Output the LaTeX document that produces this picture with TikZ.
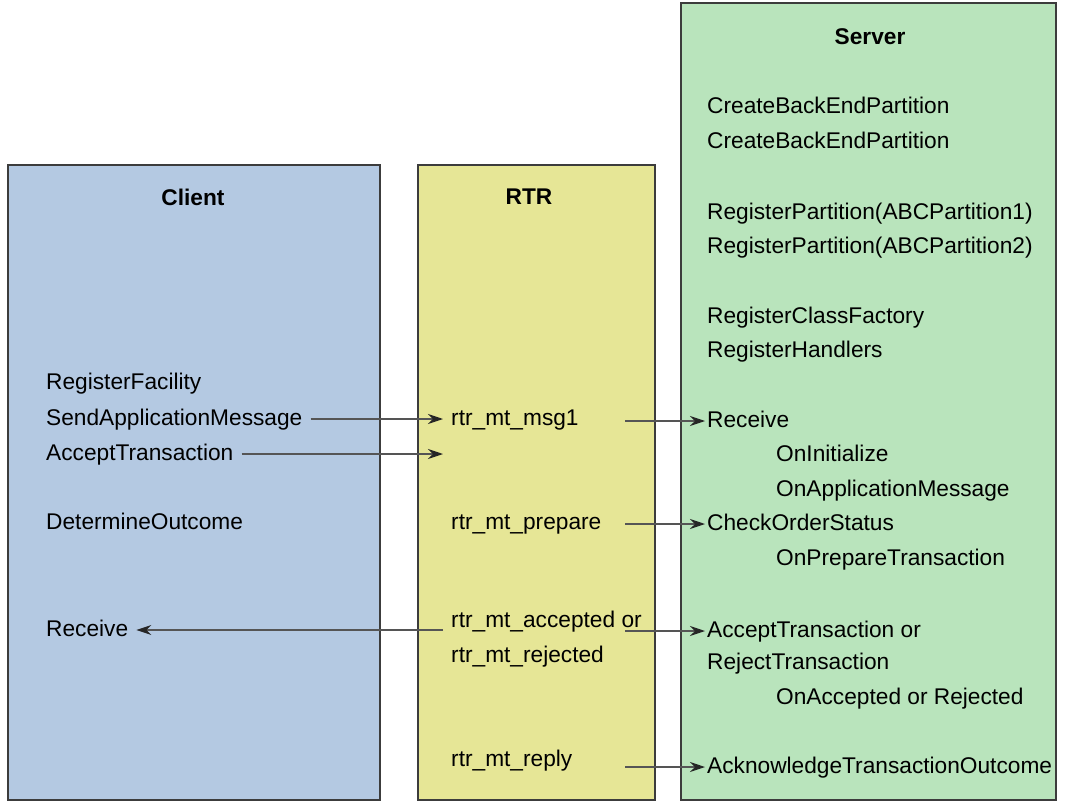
\documentclass[tikz,border=0pt]{standalone}
\usepackage{fontspec}
\setmainfont{Liberation Sans}
\usetikzlibrary{arrows.meta}
\definecolor{clientblue}{RGB}{180,201,226}
\definecolor{rtryellow}{RGB}{230,230,150}
\definecolor{servergreen}{RGB}{185,228,188}
\definecolor{boxgray}{RGB}{60,60,60}
\definecolor{linegray}{RGB}{85,85,85}

\begin{document}
\begin{tikzpicture}[x=1pt,y=-1pt,
        >={Stealth[length=15pt,width=10pt,inset=5pt,color=black!85]},
        box/.style={draw=boxgray,line width=1.4pt},
        lbl/.style={anchor=west,font=\fontsize{22.7}{28}\selectfont,
            text height=16pt,text depth=4pt,inner ysep=0pt,inner xsep=8pt},
        srv/.style={lbl,inner xsep=2pt},
        title/.style={font=\fontsize{22.7}{28}\selectfont\bfseries},
        msg/.style={->,draw=linegray,line width=1.2pt}]

        \useasboundingbox (0,0) rectangle (1065,805);

        % draw the three columns
        \draw[box,fill=clientblue]  (8,165)  rectangle (380,800);
        \draw[box,fill=rtryellow]   (418,165) rectangle (655,800);
        \draw[box,fill=servergreen] (681,3)   rectangle (1056,800);

        % column titles
        \node[title] (clienttitle) at (193,197) {Client};
        \node[title] (rtrtitle)    at (529,197) {RTR};
        \node[title] (servertitle) at (870,37)  {Server};

        % calls made by the client
        \foreach \y/\name/\txt in {
            383/cfac/RegisterFacility,
            419/csend/SendApplicationMessage,
            454/caccept/AcceptTransaction,
            523/cout/DetermineOutcome,
            630/crecv/Receive}
                \node[lbl] (\name) at (38,\y) {\txt};

        % messages passed through the RTR
        \foreach \y/\name/\txt in {
            419/rmsg/rtr\_mt\_msg1,
            523/rprep/rtr\_mt\_prepare,
            621/racc/rtr\_mt\_accepted or,
            656/rrej/rtr\_mt\_rejected,
            760/rrep/rtr\_mt\_reply}
                \node[lbl] (\name) at (443,\y) {\txt};

        % calls and handlers on the server
        \foreach \x/\y/\name/\txt in {
            % partitions
            705/108/scbe1/CreateBackEndPartition,
            705/143/scbe2/CreateBackEndPartition,
            705/213/sreg1/{RegisterPartition(ABCPartition1)},
            705/247/sreg2/{RegisterPartition(ABCPartition2)},
            % factories and handlers
            705/317/sfac/RegisterClassFactory,
            705/351/shand/RegisterHandlers,
            % incoming messages
            705/421/srecv/Receive,
            774/455/sinit/OnInitialize,
            774/490/sappl/OnApplicationMessage,
            705/524/scheck/CheckOrderStatus,
            774/559/sprep/OnPrepareTransaction,
            705/631/sacc/AcceptTransaction or,
            705/663/srej/RejectTransaction,
            774/698/sonacc/OnAccepted or Rejected,
            705/767/sack/AcknowledgeTransactionOutcome}
                \node[srv] (\name) at (\x,\y) {\txt};

        % the message arrows
        \coordinate (rtrout) at (625,0);
        \coordinate (acctip) at (443,454);
        \draw[msg] (csend) -- (rmsg);
        \draw[msg] (caccept) -- (acctip);
        \draw[msg] (racc.west |- crecv) -- (crecv);
        \draw[msg] (rtrout |- srecv) -- (srecv.west);
        \draw[msg] (rtrout |- scheck) -- (scheck.west);
        \draw[msg] (rtrout |- sacc) -- (sacc.west);
        \draw[msg] (rtrout |- sack) -- (sack.west);
\end{tikzpicture}
\end{document}
